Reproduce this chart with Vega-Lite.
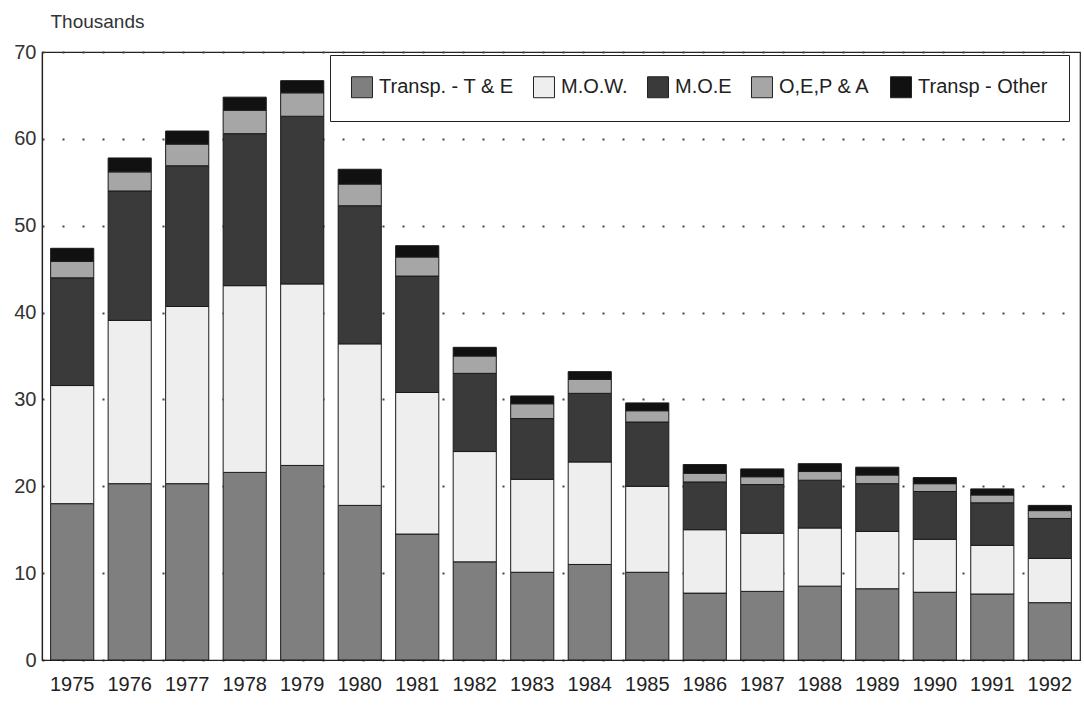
{
  "$schema": "https://vega.github.io/schema/vega-lite/v6.json",
  "width": 1038,
  "height": 608,
  "autosize": "none",
  "padding": {"left": 42, "top": 52, "right": 4, "bottom": 48},
  "background": "white",
  "config": {
    "view": {"stroke": "#222", "strokeWidth": 1.2},
    "font": "Liberation Sans"
  },
  "data": {
    "values": [
      {"year": "1975", "cat": "Transp. - T & E", "v": 18.0},
      {"year": "1975", "cat": "M.O.W.", "v": 13.6},
      {"year": "1975", "cat": "M.O.E", "v": 12.4},
      {"year": "1975", "cat": "O,E,P & A", "v": 1.9},
      {"year": "1975", "cat": "Transp - Other", "v": 1.5},
      {"year": "1976", "cat": "Transp. - T & E", "v": 20.3},
      {"year": "1976", "cat": "M.O.W.", "v": 18.8},
      {"year": "1976", "cat": "M.O.E", "v": 14.9},
      {"year": "1976", "cat": "O,E,P & A", "v": 2.2},
      {"year": "1976", "cat": "Transp - Other", "v": 1.6},
      {"year": "1977", "cat": "Transp. - T & E", "v": 20.3},
      {"year": "1977", "cat": "M.O.W.", "v": 20.4},
      {"year": "1977", "cat": "M.O.E", "v": 16.2},
      {"year": "1977", "cat": "O,E,P & A", "v": 2.5},
      {"year": "1977", "cat": "Transp - Other", "v": 1.5},
      {"year": "1978", "cat": "Transp. - T & E", "v": 21.6},
      {"year": "1978", "cat": "M.O.W.", "v": 21.5},
      {"year": "1978", "cat": "M.O.E", "v": 17.5},
      {"year": "1978", "cat": "O,E,P & A", "v": 2.7},
      {"year": "1978", "cat": "Transp - Other", "v": 1.5},
      {"year": "1979", "cat": "Transp. - T & E", "v": 22.4},
      {"year": "1979", "cat": "M.O.W.", "v": 20.9},
      {"year": "1979", "cat": "M.O.E", "v": 19.3},
      {"year": "1979", "cat": "O,E,P & A", "v": 2.7},
      {"year": "1979", "cat": "Transp - Other", "v": 1.4},
      {"year": "1980", "cat": "Transp. - T & E", "v": 17.8},
      {"year": "1980", "cat": "M.O.W.", "v": 18.6},
      {"year": "1980", "cat": "M.O.E", "v": 15.9},
      {"year": "1980", "cat": "O,E,P & A", "v": 2.5},
      {"year": "1980", "cat": "Transp - Other", "v": 1.7},
      {"year": "1981", "cat": "Transp. - T & E", "v": 14.5},
      {"year": "1981", "cat": "M.O.W.", "v": 16.3},
      {"year": "1981", "cat": "M.O.E", "v": 13.4},
      {"year": "1981", "cat": "O,E,P & A", "v": 2.2},
      {"year": "1981", "cat": "Transp - Other", "v": 1.3},
      {"year": "1982", "cat": "Transp. - T & E", "v": 11.3},
      {"year": "1982", "cat": "M.O.W.", "v": 12.7},
      {"year": "1982", "cat": "M.O.E", "v": 9.0},
      {"year": "1982", "cat": "O,E,P & A", "v": 2.0},
      {"year": "1982", "cat": "Transp - Other", "v": 1.0},
      {"year": "1983", "cat": "Transp. - T & E", "v": 10.1},
      {"year": "1983", "cat": "M.O.W.", "v": 10.7},
      {"year": "1983", "cat": "M.O.E", "v": 7.0},
      {"year": "1983", "cat": "O,E,P & A", "v": 1.7},
      {"year": "1983", "cat": "Transp - Other", "v": 0.9},
      {"year": "1984", "cat": "Transp. - T & E", "v": 11.0},
      {"year": "1984", "cat": "M.O.W.", "v": 11.8},
      {"year": "1984", "cat": "M.O.E", "v": 7.9},
      {"year": "1984", "cat": "O,E,P & A", "v": 1.6},
      {"year": "1984", "cat": "Transp - Other", "v": 0.9},
      {"year": "1985", "cat": "Transp. - T & E", "v": 10.1},
      {"year": "1985", "cat": "M.O.W.", "v": 9.9},
      {"year": "1985", "cat": "M.O.E", "v": 7.4},
      {"year": "1985", "cat": "O,E,P & A", "v": 1.3},
      {"year": "1985", "cat": "Transp - Other", "v": 0.9},
      {"year": "1986", "cat": "Transp. - T & E", "v": 7.7},
      {"year": "1986", "cat": "M.O.W.", "v": 7.3},
      {"year": "1986", "cat": "M.O.E", "v": 5.5},
      {"year": "1986", "cat": "O,E,P & A", "v": 1.0},
      {"year": "1986", "cat": "Transp - Other", "v": 1.0},
      {"year": "1987", "cat": "Transp. - T & E", "v": 7.9},
      {"year": "1987", "cat": "M.O.W.", "v": 6.7},
      {"year": "1987", "cat": "M.O.E", "v": 5.6},
      {"year": "1987", "cat": "O,E,P & A", "v": 0.9},
      {"year": "1987", "cat": "Transp - Other", "v": 0.9},
      {"year": "1988", "cat": "Transp. - T & E", "v": 8.5},
      {"year": "1988", "cat": "M.O.W.", "v": 6.7},
      {"year": "1988", "cat": "M.O.E", "v": 5.5},
      {"year": "1988", "cat": "O,E,P & A", "v": 1.0},
      {"year": "1988", "cat": "Transp - Other", "v": 0.9},
      {"year": "1989", "cat": "Transp. - T & E", "v": 8.2},
      {"year": "1989", "cat": "M.O.W.", "v": 6.6},
      {"year": "1989", "cat": "M.O.E", "v": 5.5},
      {"year": "1989", "cat": "O,E,P & A", "v": 1.0},
      {"year": "1989", "cat": "Transp - Other", "v": 0.9},
      {"year": "1990", "cat": "Transp. - T & E", "v": 7.8},
      {"year": "1990", "cat": "M.O.W.", "v": 6.1},
      {"year": "1990", "cat": "M.O.E", "v": 5.5},
      {"year": "1990", "cat": "O,E,P & A", "v": 0.9},
      {"year": "1990", "cat": "Transp - Other", "v": 0.7},
      {"year": "1991", "cat": "Transp. - T & E", "v": 7.6},
      {"year": "1991", "cat": "M.O.W.", "v": 5.6},
      {"year": "1991", "cat": "M.O.E", "v": 4.9},
      {"year": "1991", "cat": "O,E,P & A", "v": 0.9},
      {"year": "1991", "cat": "Transp - Other", "v": 0.7},
      {"year": "1992", "cat": "Transp. - T & E", "v": 6.6},
      {"year": "1992", "cat": "M.O.W.", "v": 5.1},
      {"year": "1992", "cat": "M.O.E", "v": 4.6},
      {"year": "1992", "cat": "O,E,P & A", "v": 0.9},
      {"year": "1992", "cat": "Transp - Other", "v": 0.6}
    ]
  },
  "transform": [
    {"window": [{"op": "row_number", "as": "k"}], "groupby": ["year"]}
  ],
  "mark": {"type": "bar", "stroke": "#1a1a1a", "strokeWidth": 1, "opacity": 1},
  "encoding": {
    "x": {
      "field": "year",
      "type": "ordinal",
      "scale": {"paddingInner": 0.25, "paddingOuter": 0.15},
      "axis": {
        "title": null,
        "labelAngle": 0,
        "labelFontSize": 20,
        "labelColor": "#222",
        "labelPadding": 14,
        "ticks": false,
        "domainColor": "#222",
        "domainWidth": 1.2
      }
    },
    "y": {
      "field": "v",
      "type": "quantitative",
      "stack": "zero",
      "scale": {"domain": [0, 70], "nice": false},
      "axis": {
        "values": [0, 10, 20, 30, 40, 50, 60, 70],
        "title": "Thousands",
        "titleAngle": 0,
        "titleAlign": "left",
        "titleBaseline": "alphabetic",
        "titleX": 8,
        "titleY": -25,
        "titleFontSize": 19,
        "titleFontWeight": "normal",
        "titleColor": "#333",
        "labelFontSize": 20,
        "labelColor": "#333",
        "labelPadding": 6,
        "ticks": false,
        "domainColor": "#222",
        "domainWidth": 1.2,
        "grid": true,
        "gridDash": [2, 18],
        "gridColor": "#444",
        "gridWidth": 1.8
      }
    },
    "color": {
      "field": "cat",
      "type": "nominal",
      "sort": ["Transp. - T & E", "M.O.W.", "M.O.E", "O,E,P & A", "Transp - Other"],
      "scale": {
        "domain": ["Transp. - T & E", "M.O.W.", "M.O.E", "O,E,P & A", "Transp - Other"],
        "range": ["#7f7f7f", "#eeeeee", "#3a3a3a", "#a6a6a6", "#111111"]
      },
      "legend": {
        "title": null,
        "orient": "none",
        "legendX": 288,
        "legendY": 3,
        "direction": "horizontal",
        "columns": 5,
        "symbolType": "square",
        "symbolSize": 440,
        "symbolStrokeColor": "#222",
        "symbolStrokeWidth": 1,
        "symbolOpacity": 1,
        "labelFontSize": 20,
        "labelColor": "#222",
        "labelLimit": 300,
        "labelOffset": 6,
        "columnPadding": 17,
        "padding": 21,
        "fillColor": "white",
        "strokeColor": "#222"
      }
    },
    "order": {"field": "k", "type": "quantitative", "sort": "ascending"}
  }
}
